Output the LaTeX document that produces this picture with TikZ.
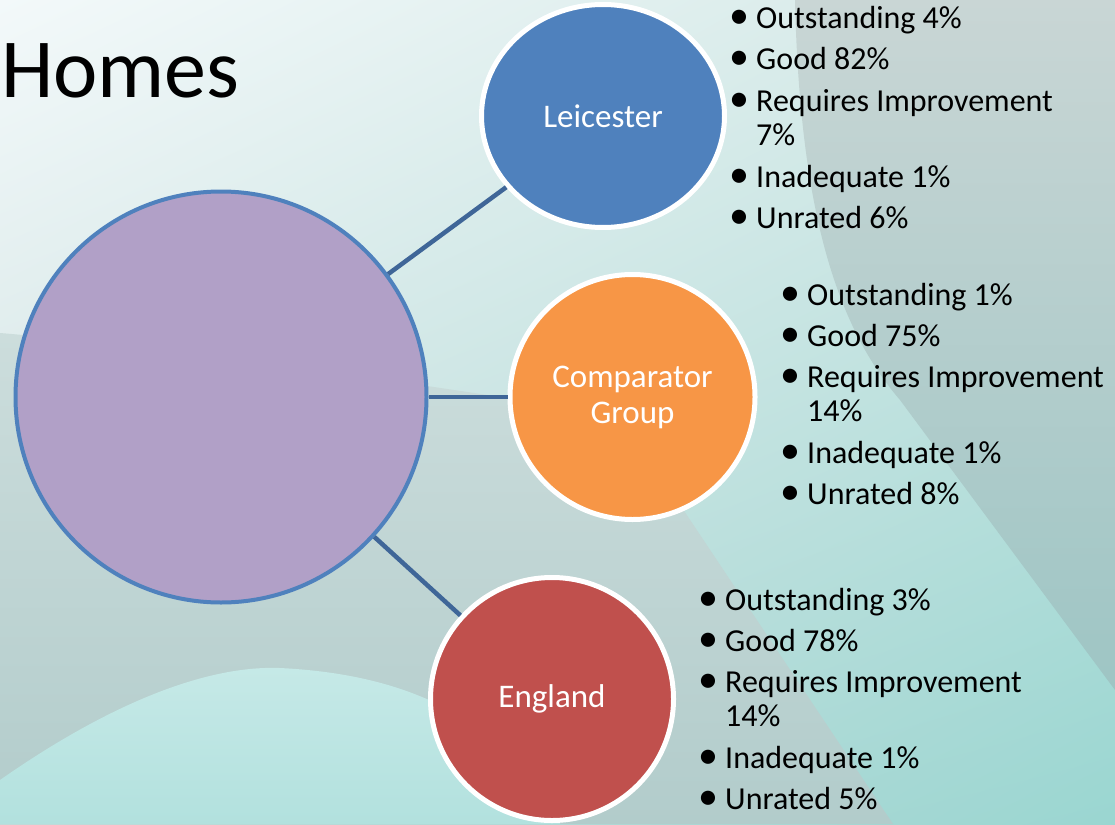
\documentclass[tikz,border=0pt]{standalone}
\usepackage{fontspec}
\setmainfont{Carlito}
\usetikzlibrary{shapes.geometric,shadings}
\definecolor{bgTL}{HTML}{F3F9FA}
\definecolor{bgTR}{HTML}{D3E8E6}
\definecolor{bgBL}{HTML}{C6DCDB}
\definecolor{bgBR}{HTML}{9AD6D1}
\definecolor{greyTop}{HTML}{CCDDDC}
\definecolor{greyBot}{HTML}{B2CCCB}
\definecolor{rightTop}{HTML}{C9D6D5}
\definecolor{rightBot}{HTML}{9EC5C4}
\definecolor{hillTop}{HTML}{C6E9E7}
\definecolor{hillBot}{HTML}{B2E1DE}
\definecolor{hubFill}{HTML}{B1A0C7}
\definecolor{hubLine}{HTML}{4F81BD}
\definecolor{leicFill}{HTML}{4F81BD}
\definecolor{compFill}{HTML}{F79646}
\definecolor{engFill}{HTML}{C0504D}
\definecolor{linkCol}{HTML}{3F6698}
\tikzset{
  satellite/.style={draw=white, line width=5pt, inner sep=0pt, text=white, align=center,
    font=\fontsize{33}{36}\selectfont},
  link/.style={draw=linkCol, line width=4.5pt},
  item/.style={anchor=base west, inner sep=0pt, font=\fontsize{32}{34}\selectfont}
}
\newcommand{\bul}{\llap{\makebox[34pt]{\fontsize{40}{40}\selectfont\textbullet}}}
\begin{document}
\begin{tikzpicture}[x=1pt,y=-1pt]
\useasboundingbox (0,0) rectangle (1115,824);
% background
\shade[upper left=bgTL, upper right=bgTR, lower left=bgBL, lower right=bgBR] (0,0) rectangle (1115,824);
\shade[top color=greyTop, bottom color=greyBot] (0,333) .. controls (200,350) and (420,385) .. (620,415) -- (893,824) -- (0,824) -- cycle;
\shade[top color=rightTop, bottom color=rightBot] (795,0) .. controls (800,220) and (840,330) .. (900,400) -- (1115,690) -- (1115,0) -- cycle;
\shade[top color=hillTop, bottom color=hillBot] (0,780) .. controls (100,710) and (200,665) .. (280,668) .. controls (360,672) and (420,690) .. (470,722) .. controls (500,740) and (530,760) .. (560,780) -- (560,824) -- (0,824) -- cycle;
% title
\node[anchor=base west, inner sep=0pt, font=\fontsize{84}{90}\selectfont] (title) at (1,98) {Homes};
% circles
\node[circle, draw=hubLine, fill=hubFill, line width=4pt, minimum size=411pt, inner sep=0pt] (hub) at (221,397) {};
\node[ellipse, satellite, fill=leicFill, minimum width=243pt, minimum height=223pt] (leic) at (603,116) {Leicester};
\node[circle, satellite, fill=compFill, minimum size=245pt] (comp) at (632.5,397) {Comparator\\Group};
\node[circle, satellite, fill=engFill, minimum size=243pt] (eng) at (552,699) {England};
% connectors
\draw[link] (hub) -- (leic);
\draw[link] (hub) -- (comp);
\draw[link] (hub) -- (eng);
% lists
\foreach \dy/\t/\b [count=\i] in {0/Outstanding 4\%/1, 41/Good 82\%/1, 82/Requires Improvement/1, 116/7\%/0, 158/Inadequate 1\%/1, 199/Unrated 6\%/1}
  \node[item] (leicItem\i) at (756,29+\dy) {\ifnum\b=1 \bul\fi\t};
\foreach \dy/\t/\b [count=\i] in {0/Outstanding 1\%/1, 41/Good 75\%/1, 82/Requires Improvement/1, 116/14\%/0, 158/Inadequate 1\%/1, 199/Unrated 8\%/1}
  \node[item] (compItem\i) at (807,305+\dy) {\ifnum\b=1 \bul\fi\t};
\foreach \dy/\t/\b [count=\i] in {0/Outstanding 3\%/1, 41/Good 78\%/1, 82/Requires Improvement/1, 116/14\%/0, 158/Inadequate 1\%/1, 199/Unrated 5\%/1}
  \node[item] (engItem\i) at (725,610+\dy) {\ifnum\b=1 \bul\fi\t};
\end{tikzpicture}
\end{document}
